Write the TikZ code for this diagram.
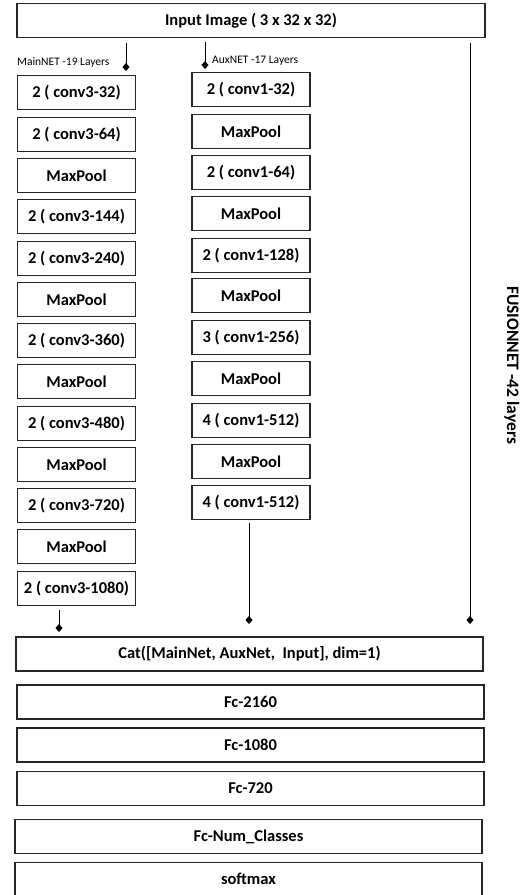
\documentclass[tikz,border=0pt]{standalone}
\usepackage{fontspec}
\setmainfont{Carlito}
\usetikzlibrary{arrows.meta}
\begin{document}
\begin{tikzpicture}[x=1pt,y=-1pt,
  blk/.style={draw=black!85,line width=1.4pt,inner sep=0pt,minimum width=#1,minimum height=34pt,font=\fontsize{16.5}{19}\selectfont\bfseries},
  blk/.default=118pt,
  conn/.style={line width=0.9pt,-{Diamond[length=8pt,width=7pt]}},
  lbl/.style={font=\fontsize{11.5}{13}\selectfont,inner sep=0pt}]
\useasboundingbox (0,0) rectangle (528,895);
\node[blk=468pt] (inp) at (251,20.5) {Input Image ( 3 x 32 x 32)};
% Main column
\foreach \t/\txt [count=\i] in {75/2 ( conv3-32),117/2 ( conv3-64),158/MaxPool,199/2 ( conv3-144),241/2 ( conv3-240),282/MaxPool,323/2 ( conv3-360),364/MaxPool,406/2 ( conv3-480),447/MaxPool,488/2 ( conv3-720),529/MaxPool,571/2 ( conv3-1080)}
  \node[blk] (m\i) at (76.5,\t+17.5) {\txt};
% Aux column
\foreach \t/\txt [count=\i] in {72/2 ( conv1-32),114/MaxPool,155/2 ( conv1-64),196/MaxPool,238/2 ( conv1-128),278/MaxPool,320/3 ( conv1-256),361/MaxPool,403/4 ( conv1-512),444/MaxPool,485/4 ( conv1-512)}
  \node[blk] (a\i) at (251,\t+17.5) {\txt};
\node[lbl,anchor=west] (mlab) at (17,62) {MainNET -19 Layers};
\node[lbl,anchor=west] (alab) at (212,61) {AuxNET -17 Layers};
% bottom
\node[blk=467pt] (cat) at (249.5,654) {Cat([MainNet, AuxNet,\ \ Input], dim=1)};
\node[blk=467pt] (fc1) at (250.5,702) {Fc-2160};
\node[blk=467pt] (fc2) at (250.5,745) {Fc-1080};
\node[blk=467pt] (fc3) at (250.5,788.5) {Fc-720};
\node[blk=467pt] (fc4) at (248.5,836.5) {Fc-Num\_Classes};
\node[blk=467pt,minimum height=70pt,text height=22pt,text depth=48pt,anchor=north] (sm) at (248.5,862) {softmax};
\node[font=\fontsize{17.5}{20}\selectfont\bfseries,rotate=-90] (fus) at (512,365) {FUSIONNET -42 layers};
% connectors
\coordinate (d1) at (126,71);
\coordinate (d2) at (205,69);
\coordinate (d3) at (249,624);
\coordinate (d4) at (470,624);
\coordinate (d5) at (59,632);
\draw[conn] (inp.south -| d1) ++(0,5) -- (d1);
\draw[conn] (inp.south -| d2) ++(0,4) -- (d2);
\draw[conn] (inp.south -| d4) ++(0,5) -- (d4);
\draw[conn] (a11.south -| d3) ++(0,3) -- (d3);
\draw[conn] (m13.south -| d5) ++(0,4) -- (d5);
\end{tikzpicture}
\end{document}
